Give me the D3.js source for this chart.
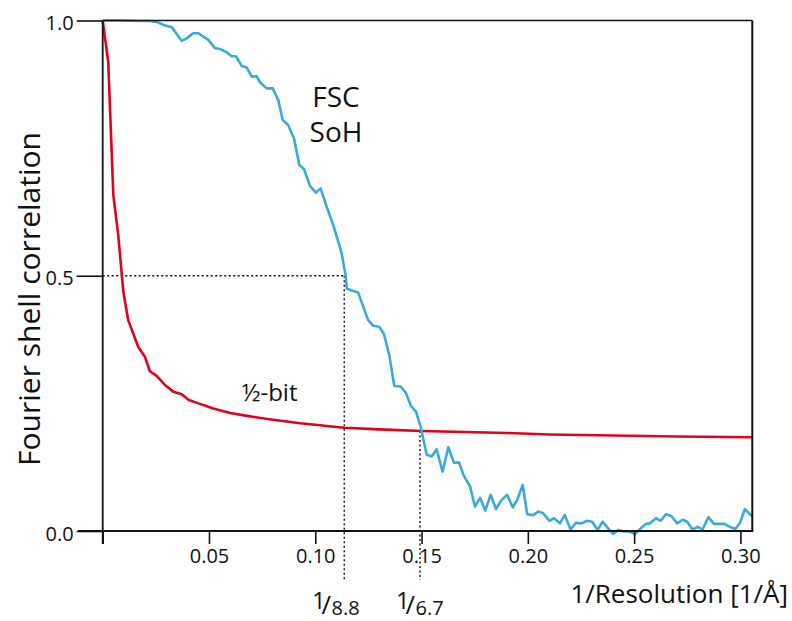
<!DOCTYPE html>
<html>
<head>
<meta charset="utf-8">
<script src="https://cdn.jsdelivr.net/npm/d3@7"></script>
<style>
  body { margin: 0; background: #fff; }
  svg text { font-family: "Open Sans", "Noto Sans", sans-serif; fill: #111; }
</style>
</head>
<body>
<div id="chart"></div>
<script>
'use strict';

// FSC curve: spatial frequency [1/Å] and correlation
var fscFreq = [0, 0.0081, 0.0175, 0.0222, 0.0262, 0.0293, 0.0325, 0.0372, 0.0395, 0.0426,
  0.0450, 0.0497, 0.0528, 0.0552, 0.0583, 0.0607, 0.0627, 0.0654, 0.0677, 0.0701,
  0.0724, 0.0740, 0.0771, 0.0800, 0.0826, 0.0847, 0.0873, 0.0900, 0.0925, 0.0947,
  0.0975, 0.1003, 0.1025, 0.1054, 0.1085, 0.1108, 0.1124, 0.1143, 0.1148, 0.1171,
  0.1202, 0.1226, 0.1249, 0.1273, 0.1301, 0.1323, 0.1348, 0.1372, 0.1402, 0.1427,
  0.1450, 0.1474, 0.1496, 0.1524, 0.1548, 0.1571, 0.1599, 0.1626, 0.1652, 0.1677,
  0.1699, 0.1728, 0.1751, 0.1775, 0.1800, 0.1825, 0.1850, 0.1877, 0.1903, 0.1929,
  0.1950, 0.1976, 0.1997, 0.2025, 0.2049, 0.2072, 0.2101, 0.2123, 0.2151, 0.2174,
  0.2201, 0.2226, 0.2253, 0.2279, 0.2303, 0.2328, 0.2352, 0.2378, 0.2402, 0.2425,
  0.2452, 0.2477, 0.2504, 0.2531, 0.2556, 0.2574, 0.2603, 0.2625, 0.2650, 0.2676,
  0.2703, 0.2728, 0.2750, 0.2775, 0.2799, 0.2822, 0.2849, 0.2876, 0.2900, 0.2924,
  0.2951, 0.2976, 0.2998, 0.3021, 0.3057];
var fscValue = [1.000, 1.000, 0.999, 0.999, 0.996, 0.990, 0.987, 0.960, 0.965, 0.975,
  0.975, 0.962, 0.946, 0.944, 0.938, 0.930, 0.930, 0.911, 0.908, 0.890,
  0.891, 0.879, 0.867, 0.867, 0.844, 0.805, 0.795, 0.769, 0.717, 0.709,
  0.676, 0.663, 0.671, 0.635, 0.599, 0.567, 0.544, 0.501, 0.475, 0.471,
  0.467, 0.439, 0.413, 0.402, 0.400, 0.386, 0.345, 0.284, 0.283, 0.270,
  0.245, 0.234, 0.204, 0.150, 0.146, 0.160, 0.116, 0.164, 0.134, 0.134,
  0.108, 0.088, 0.048, 0.065, 0.040, 0.071, 0.043, 0.061, 0.071, 0.046,
  0.061, 0.090, 0.033, 0.031, 0.038, 0.035, 0.020, 0.025, 0.015, 0.031,
  0.003, 0.016, 0.015, 0.020, 0.018, 0.002, 0.018, 0.005, -0.006, 0.002,
  -0.001, -0.001, -0.006, 0.005, 0.014, 0.015, 0.025, 0.020, 0.033, 0.029,
  0.015, 0.022, 0.018, 0.003, 0.008, 0.003, 0.027, 0.014, 0.014, 0.014,
  0.008, 0.004, 0.016, 0.043, 0.028];

// ½-bit threshold curve
var bitFreq = [0, 0.0026, 0.0050, 0.0073, 0.0097, 0.0120, 0.0167, 0.0199, 0.0222, 0.0254,
  0.0293, 0.0332, 0.0372, 0.0403, 0.0450, 0.0480, 0.0520, 0.0600, 0.0700, 0.0800,
  0.0930, 0.1136, 0.1300, 0.1500, 0.1700, 0.1900, 0.2100, 0.2400, 0.2700, 0.3056];
var bitValue = [1.000, 0.919, 0.658, 0.580, 0.469, 0.413, 0.361, 0.341, 0.313, 0.304,
  0.286, 0.273, 0.268, 0.257, 0.250, 0.246, 0.240, 0.231, 0.224, 0.218,
  0.211, 0.2024, 0.199, 0.196, 0.194, 0.192, 0.189, 0.187, 0.185, 0.1835];

var xTicks = [0, 0.05, 0.10, 0.15, 0.20, 0.25, 0.30];
var yTicks = [0, 0.5, 1.0];
var resolutions = [8.8, 6.7];   // Å, marked under the axis

var width = 792, height = 621;
var x = d3.scaleLinear().domain([0, 0.3056]).range([102.7, 752.3]);
var y = d3.scaleLinear().domain([0, 1]).range([531, 20.5]);

var svg = d3.select('#chart').append('svg')
    .attr('width', width)
    .attr('height', height);

var fsc = fscFreq.map(function(f, i) { return [f, fscValue[i]]; });
var halfBit = bitFreq.map(function(f, i) { return [f, bitValue[i]]; });

var line = d3.line()
    .x(function(d) { return x(d[0]); })
    .y(function(d) { return y(d[1]); });

// dotted guides
var guides = svg.append('g')
    .attr('fill', 'none')
    .attr('stroke', '#111')
    .attr('stroke-width', 1.4)
    .attr('stroke-dasharray', '2,2.5');
var res1 = 1 / resolutions[0], res2 = 1 / resolutions[1];
guides.append('line')
    .attr('x1', x(0)).attr('x2', x(res1))
    .attr('y1', y(0.5)).attr('y2', y(0.5));
guides.append('line')
    .attr('x1', x(res1)).attr('x2', x(res1))
    .attr('y1', y(0.5)).attr('y2', 580);
guides.append('line')
    .attr('x1', x(res2)).attr('x2', x(res2))
    .attr('y1', y(0.196)).attr('y2', 580);

// curves
svg.append('path')
    .datum(halfBit)
    .attr('fill', 'none')
    .attr('stroke', '#e2001a')
    .attr('stroke-width', 2.6)
    .attr('stroke-linejoin', 'round')
    .attr('d', line);

svg.append('path')
    .datum(fsc)
    .attr('fill', 'none')
    .attr('stroke', '#3aa9dc')
    .attr('stroke-width', 2.6)
    .attr('stroke-linejoin', 'round')
    .attr('d', line);

// frame: top and right
svg.append('line')
    .attr('x1', x(0)).attr('x2', x.range()[1])
    .attr('y1', y(1)).attr('y2', y(1))
    .attr('stroke', '#111').attr('stroke-width', 1.6);
svg.append('line')
    .attr('x1', x.range()[1]).attr('x2', x.range()[1])
    .attr('y1', y(1)).attr('y2', y(0))
    .attr('stroke', '#111').attr('stroke-width', 2);

// axes
var xAxis = d3.axisBottom(x)
    .tickValues(xTicks)
    .tickSize(13)
    .tickPadding(5)
    .tickFormat(function(d) { return d === 0 ? '' : d3.format('.2f')(d); });

var gx = svg.append('g')
    .attr('transform', 'translate(0,' + y(0) + ')')
    .call(xAxis);
gx.select('.domain').remove();
gx.selectAll('.tick line').attr('stroke', '#111').attr('stroke-width', 1.6);
gx.selectAll('.tick text').attr('font-size', 20).attr('fill', '#111');
gx.append('line')
    .attr('x1', 78).attr('x2', x.range()[1] + 1)
    .attr('stroke', '#111').attr('stroke-width', 2.2);

var yAxis = d3.axisLeft(y)
    .tickValues(yTicks)
    .tickSize(26)
    .tickPadding(3)
    .tickFormat(d3.format('.1f'));

var gy = svg.append('g')
    .attr('transform', 'translate(' + x(0) + ',0)')
    .call(yAxis);
gy.select('.domain').remove();
gy.selectAll('.tick line').attr('stroke', '#111').attr('stroke-width', 1.6);
gy.selectAll('.tick text').attr('font-size', 20).attr('fill', '#111').attr('dy', '0.45em');
gy.append('line')
    .attr('y1', y(1)).attr('y2', y(0) + 13)
    .attr('stroke', '#111').attr('stroke-width', 1.8);

// titles
svg.append('text')
    .attr('x', 788).attr('y', 603)
    .attr('text-anchor', 'end')
    .attr('font-size', 26)
    .text('1/Resolution [1/Å]');

svg.append('text')
    .attr('transform', 'translate(40,299) rotate(-90)')
    .attr('text-anchor', 'middle')
    .attr('font-size', 30)
    .text('Fourier shell correlation');

// curve labels
svg.append('text')
    .attr('x', 336).attr('y', 107)
    .attr('text-anchor', 'middle')
    .attr('font-size', 28)
    .text('FSC');
svg.append('text')
    .attr('x', 336).attr('y', 142)
    .attr('text-anchor', 'middle')
    .attr('font-size', 28)
    .text('SoH');
svg.append('text')
    .attr('x', 242).attr('y', 401)
    .attr('font-size', 24)
    .text('½-bit');

// resolution fractions under the axis
var fracX = [312, 396];
resolutions.forEach(function(r, i) {
  var t = svg.append('text');
  t.append('tspan')
      .attr('x', fracX[i]).attr('y', 609)
      .attr('font-size', 24)
      .text('1');
  t.append('tspan')
      .attr('x', fracX[i] + 9.5).attr('y', 614)
      .attr('font-size', 26)
      .text('/');
  t.append('tspan')
      .attr('x', fracX[i] + 19.5).attr('y', 615)
      .attr('font-size', 20)
      .text(d3.format('.1f')(r));
});
</script>
</body>
</html>
